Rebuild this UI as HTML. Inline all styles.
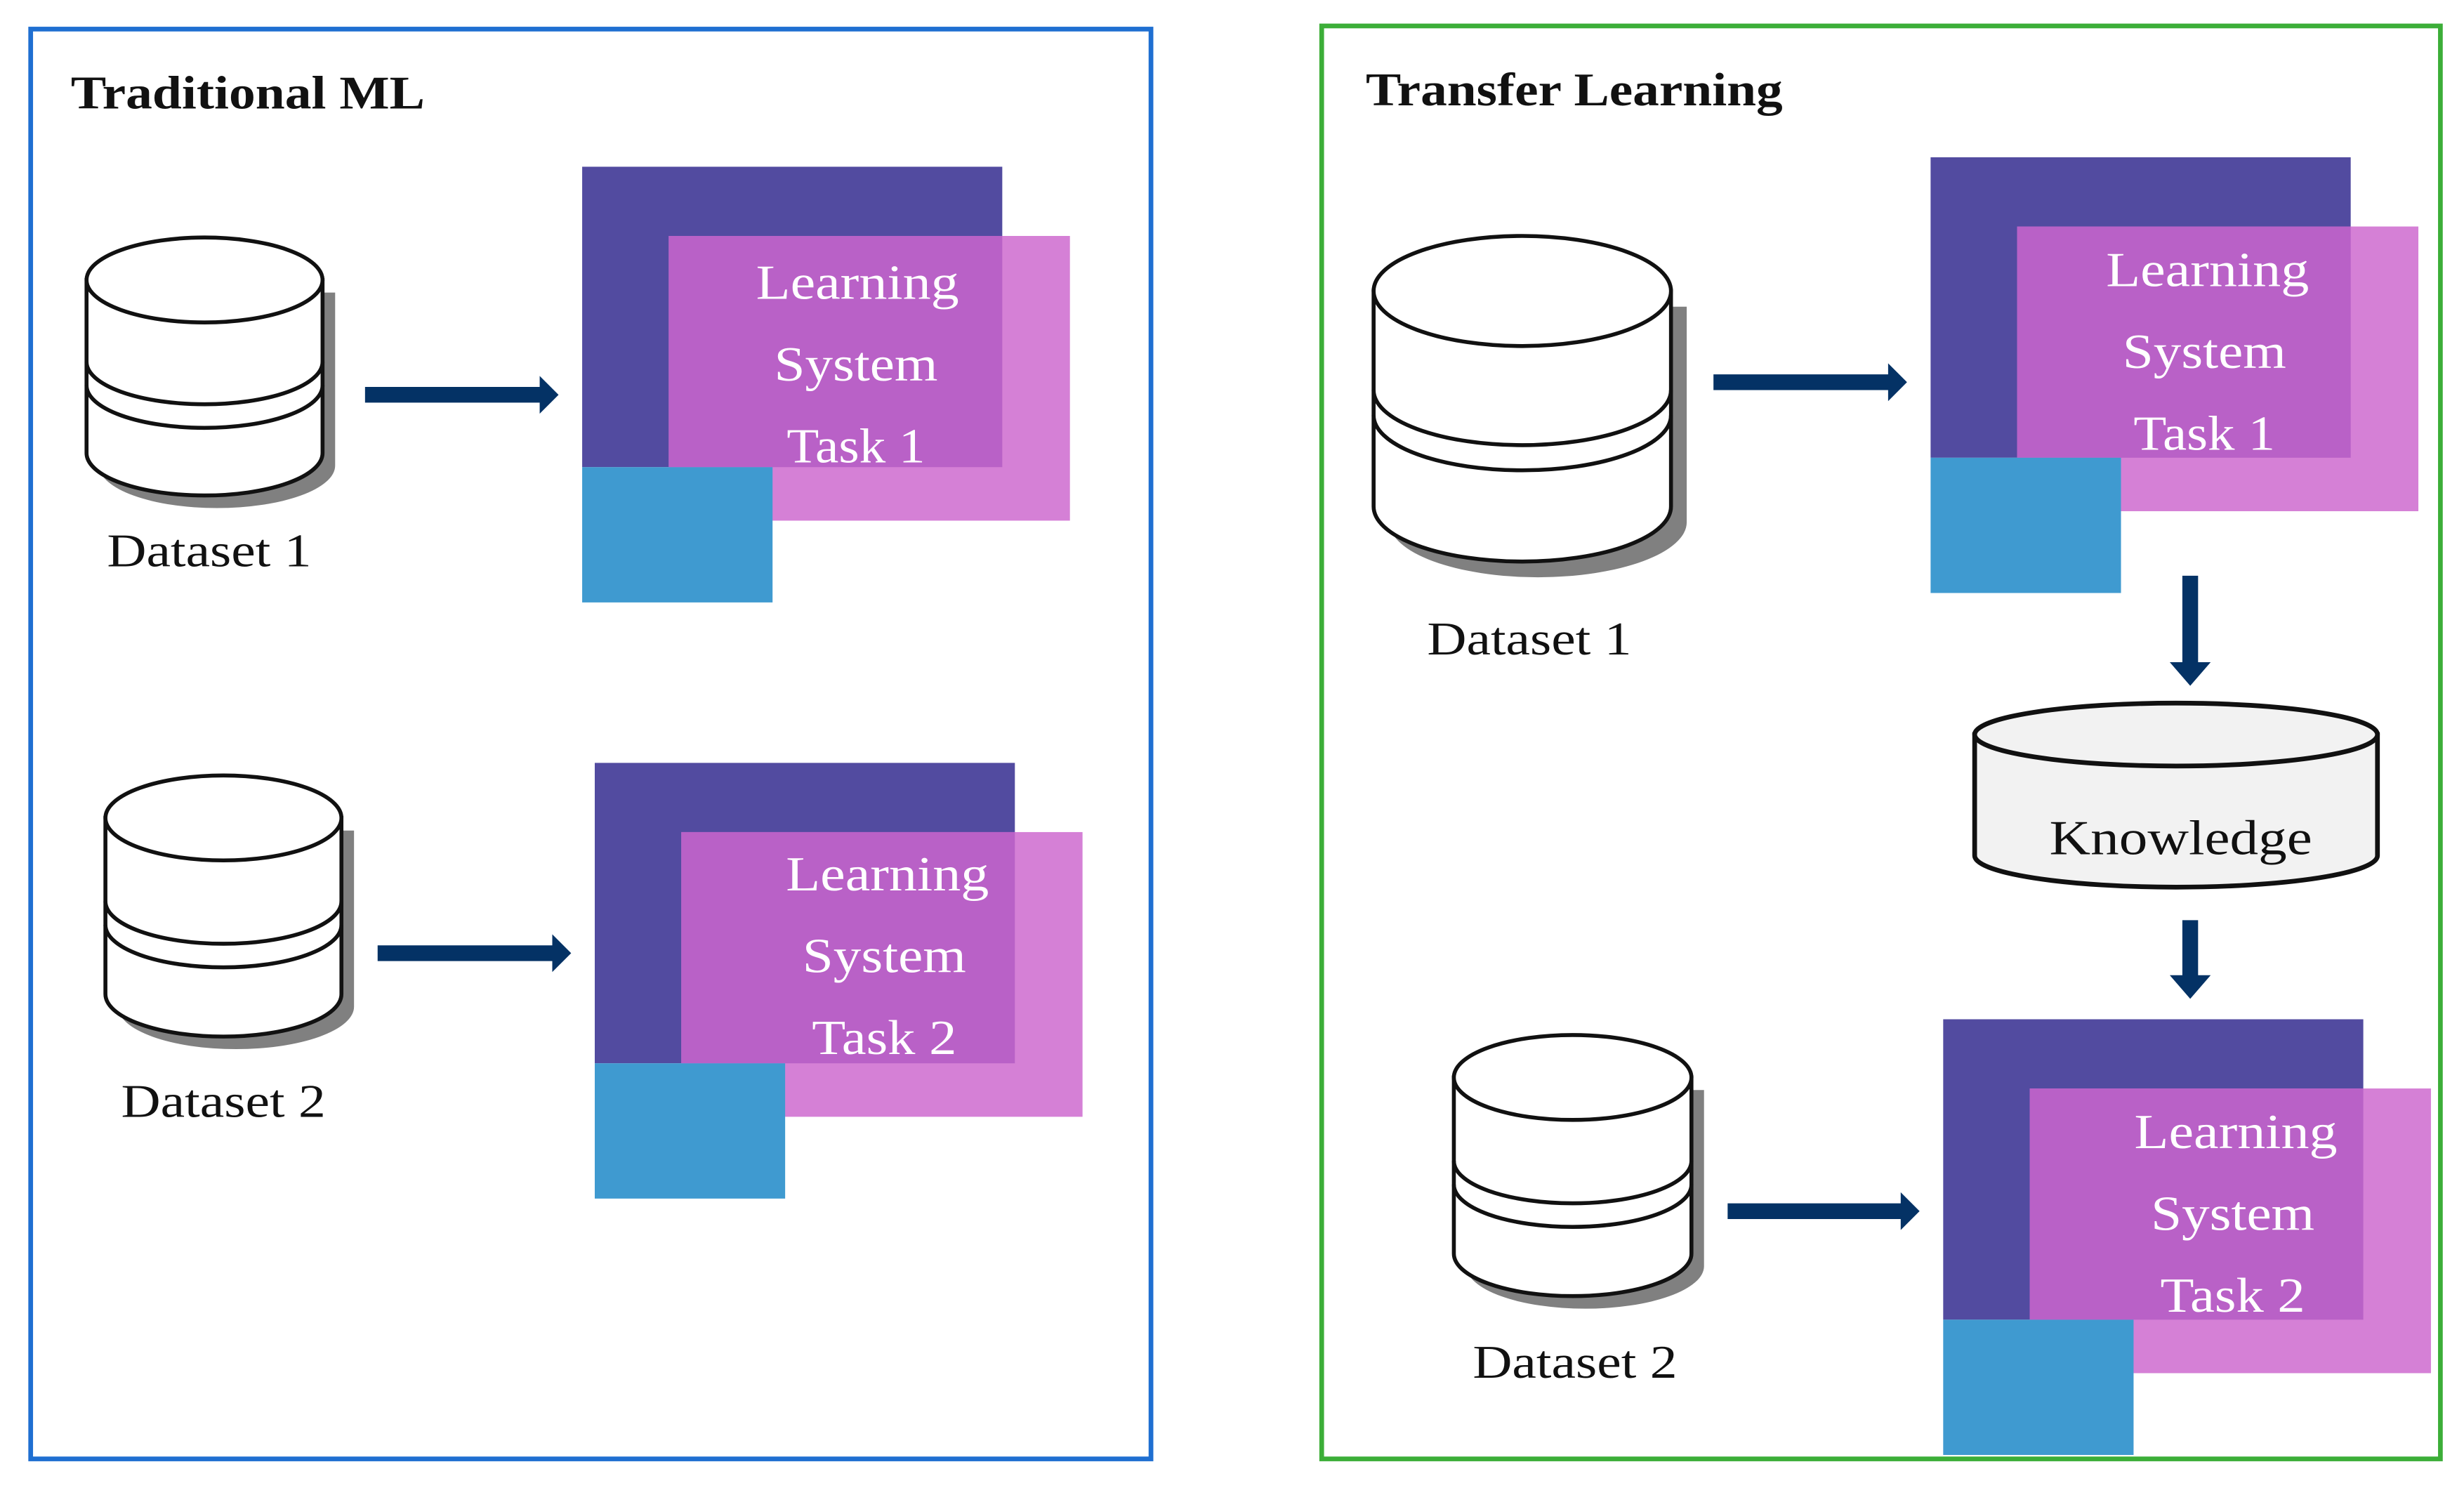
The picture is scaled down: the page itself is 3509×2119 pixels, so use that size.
<!DOCTYPE html>
<html><head><meta charset="utf-8"><style>
html,body{margin:0;padding:0;background:#fff;}
svg{display:block;}
text{font-family:"Liberation Serif",serif;}
</style></head><body>
<svg width="3509" height="2119" viewBox="0 0 1566 946" preserveAspectRatio="none" xmlns="http://www.w3.org/2000/svg">
<rect x="0" y="0" width="1566" height="946" fill="#fff"/>
<rect x="19.5" y="18.5" width="712" height="909" fill="none" stroke="#1f6fd1" stroke-width="3"/>
<rect x="840" y="16.5" width="711" height="911" fill="none" stroke="#3cae38" stroke-width="3"/>
<text x="45" y="69" font-size="30" font-weight="bold" fill="#111" textLength="225" lengthAdjust="spacingAndGlyphs">Traditional ML</text>
<text x="868" y="67" font-size="30" font-weight="bold" fill="#111" textLength="265" lengthAdjust="spacingAndGlyphs">Transfer Learning</text>

<defs>
<g id="blk">
<rect x="0" y="0" width="267" height="191" fill="#524ba0"/>
<rect x="55" y="44" width="255" height="181" fill="#d580d6"/>
<rect x="55" y="44" width="212" height="147" fill="#b961c7"/>
<rect x="0" y="191" width="121" height="86" fill="#3f9ad0"/>
</g>
</defs>

<use href="#blk" x="370" y="106"/>
<g fill="#fff" font-size="31" text-anchor="middle" lengthAdjust="spacingAndGlyphs">
<text x="545" y="190" textLength="129" lengthAdjust="spacingAndGlyphs">Learning</text><text x="544" y="242" textLength="104" lengthAdjust="spacingAndGlyphs">System</text><text x="544" y="294" textLength="88" lengthAdjust="spacingAndGlyphs">Task 1</text></g>
<use href="#blk" x="378" y="485"/>
<g fill="#fff" font-size="31" text-anchor="middle">
<text x="564" y="566" textLength="129" lengthAdjust="spacingAndGlyphs">Learning</text><text x="562" y="618" textLength="104" lengthAdjust="spacingAndGlyphs">System</text><text x="562" y="670" textLength="92" lengthAdjust="spacingAndGlyphs">Task 2</text></g>
<use href="#blk" x="1227" y="100"/>
<g fill="#fff" font-size="31" text-anchor="middle">
<text x="1403" y="182" textLength="129" lengthAdjust="spacingAndGlyphs">Learning</text><text x="1401" y="234" textLength="104" lengthAdjust="spacingAndGlyphs">System</text><text x="1401" y="286" textLength="90" lengthAdjust="spacingAndGlyphs">Task 1</text></g>
<use href="#blk" x="1235" y="648"/>
<g fill="#fff" font-size="31" text-anchor="middle">
<text x="1421" y="730" textLength="129" lengthAdjust="spacingAndGlyphs">Learning</text><text x="1419" y="782" textLength="104" lengthAdjust="spacingAndGlyphs">System</text><text x="1419" y="834" textLength="92" lengthAdjust="spacingAndGlyphs">Task 2</text></g>

<g stroke="#111" stroke-width="2.5">
<path d="M63,186 L63,296 A75,27 0 0 0 213,296 L213,186 Z" fill="#808080" stroke="none"/>
<path d="M55,178 L55,288 A75,27 0 0 0 205,288 L205,178 Z" fill="#fff"/>
<ellipse cx="130" cy="178" rx="75" ry="27" fill="#fff"/>
<path d="M55,230 A75,27 0 0 0 205,230 M55,245 A75,27 0 0 0 205,245" fill="none"/>
<path d="M75,528 L75,640 A75,27 0 0 0 225,640 L225,528 Z" fill="#808080" stroke="none"/>
<path d="M67,520 L67,632 A75,27 0 0 0 217,632 L217,520 Z" fill="#fff"/>
<ellipse cx="142" cy="520" rx="75" ry="27" fill="#fff"/>
<path d="M67,573 A75,27 0 0 0 217,573 M67,588 A75,27 0 0 0 217,588" fill="none"/>
<path d="M883,195 L883,332 A94.5,35 0 0 0 1072,332 L1072,195 Z" fill="#808080" stroke="none"/>
<path d="M873,185 L873,322 A94.5,35 0 0 0 1062,322 L1062,185 Z" fill="#fff"/>
<ellipse cx="967.5" cy="185" rx="94.5" ry="35" fill="#fff"/>
<path d="M873,248 A94.5,35 0 0 0 1062,248 M873,264 A94.5,35 0 0 0 1062,264" fill="none"/>
<path d="M932,693 L932,805 A75.5,27 0 0 0 1083,805 L1083,693 Z" fill="#808080" stroke="none"/>
<path d="M924,685 L924,797 A75.5,27 0 0 0 1075,797 L1075,685 Z" fill="#fff"/>
<ellipse cx="999.5" cy="685" rx="75.5" ry="27" fill="#fff"/>
<path d="M924,738 A75.5,27 0 0 0 1075,738 M924,753 A75.5,27 0 0 0 1075,753" fill="none"/>
<path d="M1255,467 L1255,544 A128,20 0 0 0 1511,544 L1511,467 Z" fill="#f2f2f2" stroke-width="3"/>
<ellipse cx="1383" cy="467" rx="128" ry="20" fill="#f2f2f2" stroke-width="3"/>
</g>
<text x="1386" y="543" font-size="31" text-anchor="middle" fill="#111" textLength="167" lengthAdjust="spacingAndGlyphs">Knowledge</text>

<g font-size="30" fill="#111" text-anchor="middle">
<text x="133" y="360" textLength="130" lengthAdjust="spacingAndGlyphs">Dataset 1</text>
<text x="142" y="710" textLength="130" lengthAdjust="spacingAndGlyphs">Dataset 2</text>
<text x="972" y="416" textLength="130" lengthAdjust="spacingAndGlyphs">Dataset 1</text>
<text x="1001" y="876" textLength="130" lengthAdjust="spacingAndGlyphs">Dataset 2</text>
</g>

<g fill="#043265">
<path d="M232,246 L343,246 L343,239 L355,251 L343,263 L343,256 L232,256 Z"/>
<path d="M240,601 L351,601 L351,594 L363,606 L351,618 L351,611 L240,611 Z"/>
<path d="M1089,238 L1200,238 L1200,231 L1212,243 L1200,255 L1200,248 L1089,248 Z"/>
<path d="M1098,765 L1208,765 L1208,758 L1220,770 L1208,782 L1208,775 L1098,775 Z"/>
<path d="M1387,366 L1397,366 L1397,421 L1405,421 L1392,436 L1379,421 L1387,421 Z"/>
<path d="M1387,585 L1397,585 L1397,620 L1405,620 L1392,635 L1379,620 L1387,620 Z"/>
</g>
</svg>
</body></html>
